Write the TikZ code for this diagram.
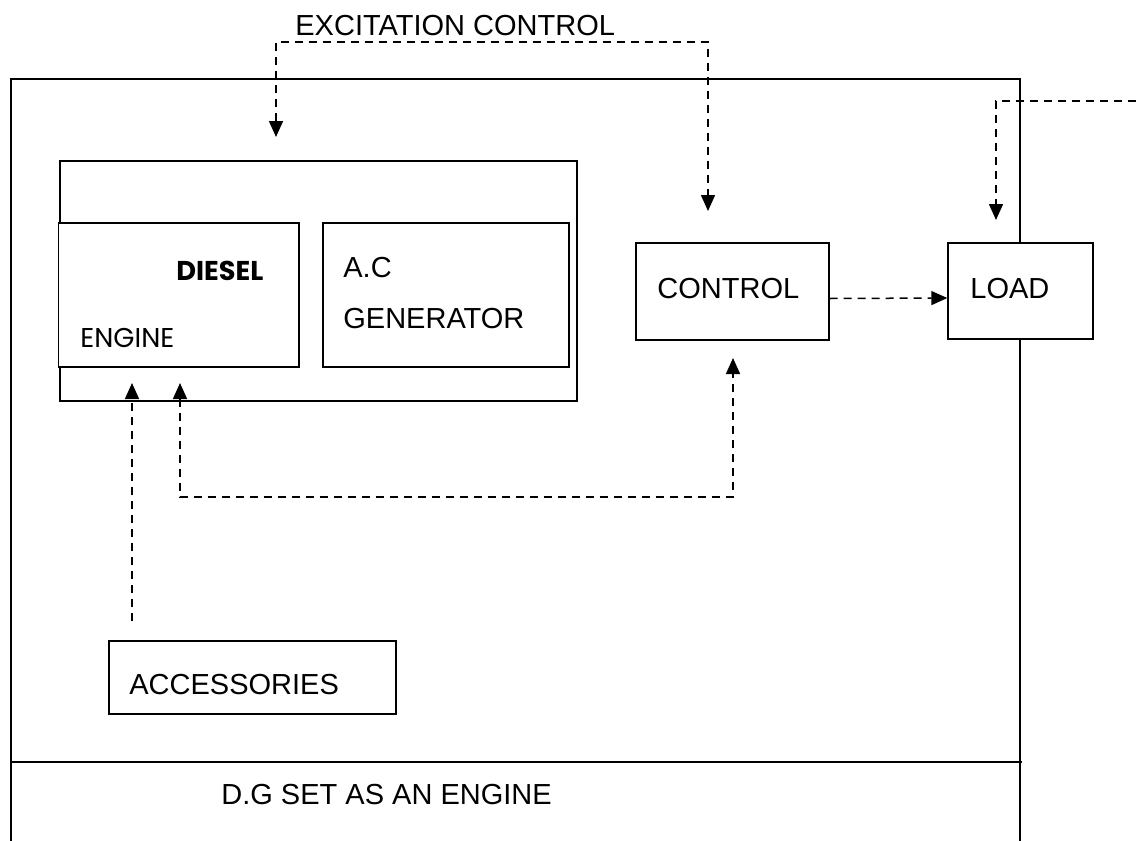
\documentclass[tikz,border=0pt]{standalone}
\usepackage{fontspec}
\setmainfont{Liberation Sans}
\newfontfamily\gothic{Poppins}
\usetikzlibrary{arrows.meta}

\tikzset{
  >={Triangle[length=8pt,width=7pt]},
  bloc/.style={draw, line width=0.7pt, fill=white, inner sep=0pt},
  signal/.style={line width=0.75pt, dash pattern=on 4pt off 3pt},
  etiq/.style={anchor=base west, inner sep=0pt, font=\fontsize{14.5}{17}\selectfont},
  etiqg/.style={anchor=base west, inner sep=0pt, font=\gothic\fontsize{13.6}{16}\selectfont},
}

\begin{document}
\begin{tikzpicture}[x=0.5pt, y=-0.5pt]
  \useasboundingbox (0,0) rectangle (1136,841);

  % Cadre du groupe et bandeau du titre
  \draw[line width=0.7pt] (11,841) -- (11,79) -- (1020,79) -- (1020,841);
  \draw[line width=0.7pt] (11,762) -- (1022,762);

  % Blocs
  \node[bloc, minimum width=258.5pt, minimum height=120pt] (groupe) at (318.5,281) {};
  \node[bloc, minimum width=120.25pt, minimum height=72pt] (diesel) at (178.75,295) {};
  \node[bloc, minimum width=123pt, minimum height=72pt] (alternateur) at (446,295) {};
  \node[bloc, minimum width=96.5pt, minimum height=48.5pt] (controle) at (732.5,291.5) {};
  \node[bloc, minimum width=72.5pt, minimum height=48pt] (charge) at (1020.5,291) {};
  \node[bloc, minimum width=143.5pt, minimum height=36.5pt] (accessoires) at (252.5,677.5) {};

  % Textes
  \node[etiq] (lexc) at (295,35) {EXCITATION CONTROL};
  \node[etiqg, font=\gothic\bfseries\fontsize{13.6}{16}\selectfont] (ldiesel) at (176,280) {DIESEL};
  \node[etiqg] (lmoteur) at (80,347) {ENGINE};
  \node[etiq] (lac) at (343,277) {A.C};
  \node[etiq] (lgen) at (343,328) {GENERATOR};
  \node[etiq] (lctrl) at (657,298) {CONTROL};
  \node[etiq] (lcharge) at (970,298) {LOAD};
  \node[etiq] (lacc) at (129,694) {ACCESSORIES};
  \node[etiq] (ltitre) at (221,804) {D.G SET AS AN ENGINE};

  % Extrémités libres des liaisons
  \coordinate (exA) at (276,137);
  \coordinate (exB) at (708,211);
  \coordinate (chA) at (1136,101);
  \coordinate (chB) at (996,220);
  \coordinate (acB) at (132,383);
  \coordinate (boA) at (180,383);
  \coordinate (boB) at (733,358);

  % Liaisons en pointillés
  \draw[signal, <->] (exA) -- (276,42) -- (708,42) -- (exB);
  \draw[signal, ->] (chA) -- (996,101) -- (chB);
  \draw[signal, ->] ([yshift=-3.5pt]controle.east) -- ([yshift=-3.5pt]charge.west);
  \draw[signal, ->] ([yshift=9.5pt]accessoires.north -| acB) -- (acB);
  \draw[signal, <->] (boA) -- (180,497) -- (733,497) -- (boB);
\end{tikzpicture}
\end{document}
